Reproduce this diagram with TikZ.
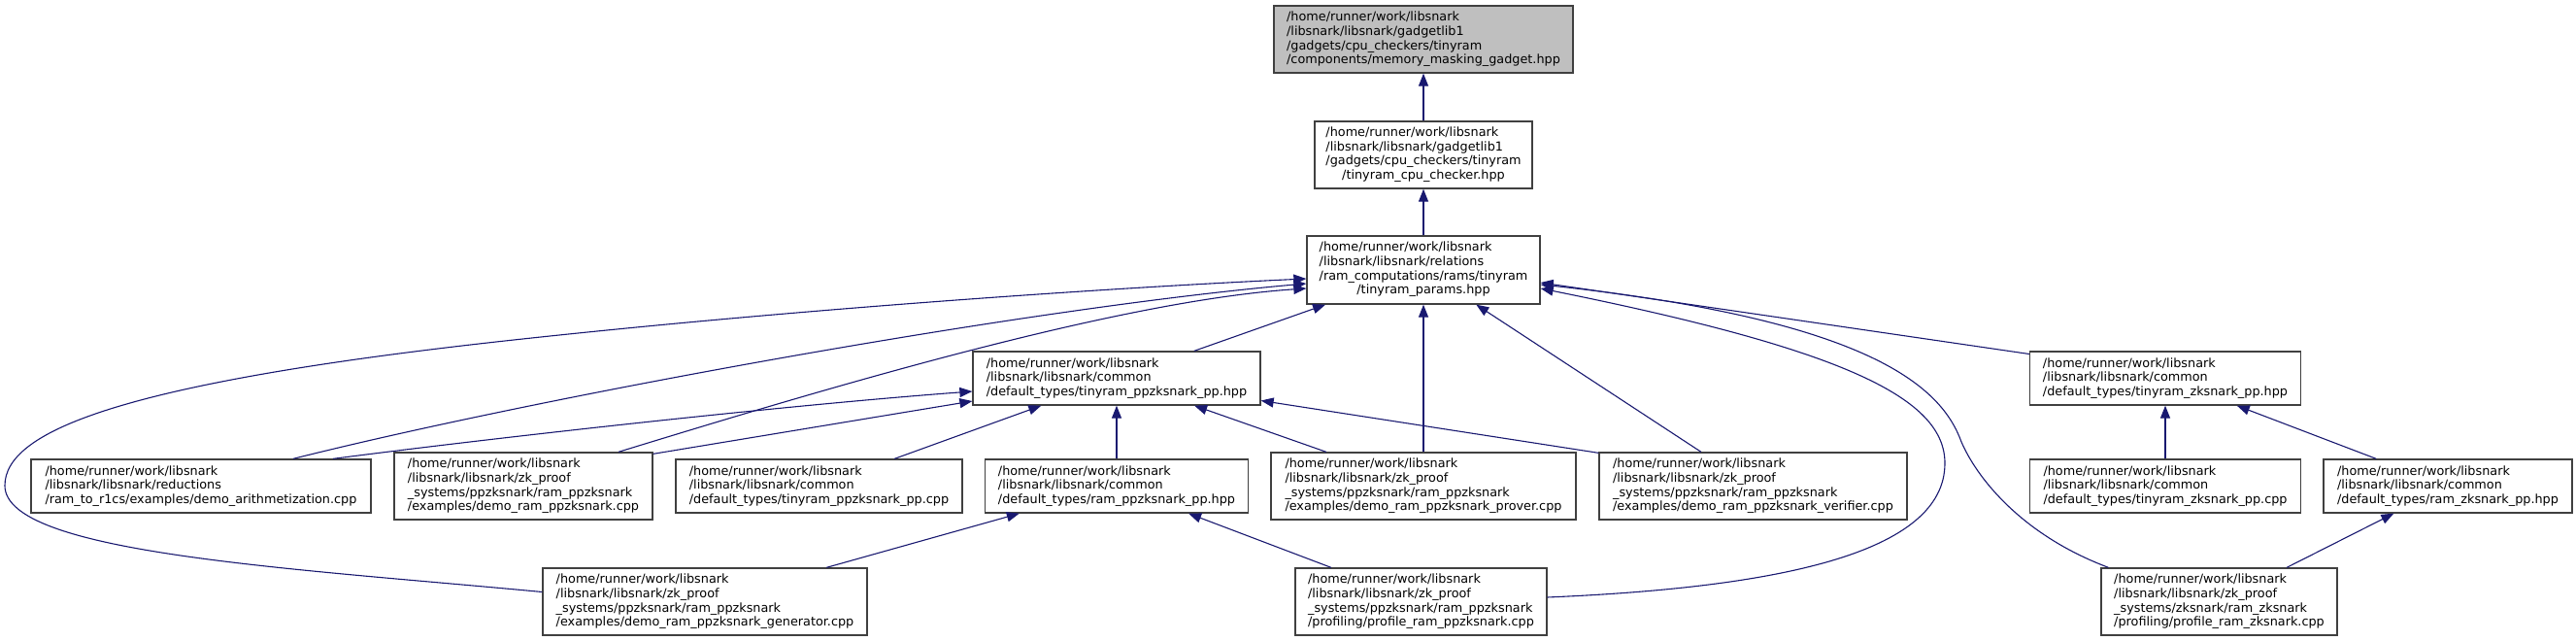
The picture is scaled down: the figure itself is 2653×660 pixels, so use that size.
\documentclass[tikz,border=0pt]{standalone}
\usepackage{fontspec}
\setmainfont{DejaVu Sans}
\usetikzlibrary{arrows.meta,calc}

\definecolor{edgeblue}{HTML}{191970}
\definecolor{boxline}{HTML}{404040}
\definecolor{rootfill}{HTML}{BFBFBF}

\begin{document}
\begin{tikzpicture}[
        x=1pt, y=-1pt,
        % file boxes
        file/.style={
            rectangle, draw=boxline, line width=1.3pt, fill=white,
            inner sep=0pt, align=left,
            font=\fontsize{12.8}{14.7}\selectfont
        },
        sz/.style 2 args={minimum width=#1pt, minimum height=#2pt},
        % include arrows
        inc/.style={-{Triangle[length=13pt,width=10pt]}, line width=1.1pt, draw=edgeblue}
    ]
        \useasboundingbox (0,0) rectangle (2653,660);

        % top chain
        \node[file, fill=rootfill, sz={308}{69}] (root) at (1466,40.5) {/home/runner/work/libsnark\\/libsnark/libsnark/gadgetlib1\\/gadgets/cpu\_checkers/tinyram\\/components/memory\_masking\_gadget.hpp};
        \node[file, sz={224}{69}] (cpu) at (1466,159.5) {\begin{tabular}{@{}l@{}}/home/runner/work/libsnark\\/libsnark/libsnark/gadgetlib1\\/gadgets/cpu\_checkers/tinyram\\\multicolumn{1}{@{}c@{}}{/tinyram\_cpu\_checker.hpp}\end{tabular}};
        \node[file, sz={240}{70}] (params) at (1466,278) {\begin{tabular}{@{}l@{}}/home/runner/work/libsnark\\/libsnark/libsnark/relations\\/ram\_computations/rams/tinyram\\\multicolumn{1}{@{}c@{}}{/tinyram\_params.hpp}\end{tabular}};

        % second row
        \node[file, sz={296}{55}] (tppp) at (1150,389.5) {/home/runner/work/libsnark\\/libsnark/libsnark/common\\/default\_types/tinyram\_ppzksnark\_pp.hpp};
        \node[file, sz={279}{55}] (tzpp) at (2230,389.5) {/home/runner/work/libsnark\\/libsnark/libsnark/common\\/default\_types/tinyram\_zksnark\_pp.hpp};

        % third row
        \node[file, sz={350}{55}] (arith) at (207,500.5) {/home/runner/work/libsnark\\/libsnark/libsnark/reductions\\/ram\_to\_r1cs/examples/demo\_arithmetization.cpp};
        \node[file, sz={266}{69}] (demo) at (539,500.5) {/home/runner/work/libsnark\\/libsnark/libsnark/zk\_proof\\\_systems/ppzksnark/ram\_ppzksnark\\/examples/demo\_ram\_ppzksnark.cpp};
        \node[file, sz={295}{55}] (tpcpp) at (843.5,500.5) {/home/runner/work/libsnark\\/libsnark/libsnark/common\\/default\_types/tinyram\_ppzksnark\_pp.cpp};
        \node[file, sz={271}{55}] (rppp) at (1150,500.5) {/home/runner/work/libsnark\\/libsnark/libsnark/common\\/default\_types/ram\_ppzksnark\_pp.hpp};
        \node[file, sz={314}{69}] (prover) at (1466,500.5) {/home/runner/work/libsnark\\/libsnark/libsnark/zk\_proof\\\_systems/ppzksnark/ram\_ppzksnark\\/examples/demo\_ram\_ppzksnark\_prover.cpp};
        \node[file, sz={317}{69}] (verifier) at (1805.5,500.5) {/home/runner/work/libsnark\\/libsnark/libsnark/zk\_proof\\\_systems/ppzksnark/ram\_ppzksnark\\/examples/demo\_ram\_ppzksnark\_verifier.cpp};
        \node[file, sz={279}{55}] (tzcpp) at (2230,500.5) {/home/runner/work/libsnark\\/libsnark/libsnark/common\\/default\_types/tinyram\_zksnark\_pp.cpp};
        \node[file, sz={256}{55}] (rzpp) at (2521,500.5) {/home/runner/work/libsnark\\/libsnark/libsnark/common\\/default\_types/ram\_zksnark\_pp.hpp};

        % bottom row
        \node[file, sz={334}{69}] (gen) at (726,619.5) {/home/runner/work/libsnark\\/libsnark/libsnark/zk\_proof\\\_systems/ppzksnark/ram\_ppzksnark\\/examples/demo\_ram\_ppzksnark\_generator.cpp};
        \node[file, sz={259}{69}] (profpp) at (1463.5,619.5) {/home/runner/work/libsnark\\/libsnark/libsnark/zk\_proof\\\_systems/ppzksnark/ram\_ppzksnark\\/profiling/profile\_ram\_ppzksnark.cpp};
        \node[file, sz={243}{69}] (profz) at (2285.5,619.5) {/home/runner/work/libsnark\\/libsnark/libsnark/zk\_proof\\\_systems/zksnark/ram\_zksnark\\/profiling/profile\_ram\_zksnark.cpp};

        % straight includes
        \draw[inc] (cpu) -- (root);
        \draw[inc] (params) -- (cpu);
        \draw[inc] (tppp) -- (params);
        \draw[inc] (prover) -- (params);
        \draw[inc] (verifier) -- (params);
        \draw[inc] ($(tzpp.west)+(0,-25)$) -- ($(params.east)+(0,13)$);
        \draw[inc] ($(demo.north east)+(0,2)$) -- ($(tppp.west)+(0,23.5)$);
        \draw[inc] (tpcpp) -- (tppp);
        \draw[inc] (rppp) -- (tppp);
        \draw[inc] (prover) -- (tppp);
        \draw[inc] ($(verifier.north west)+(0,1)$) -- ($(tppp.east)+(0,23)$);
        \draw[inc] (gen) -- (rppp);
        \draw[inc] (profpp) -- (rppp);
        \draw[inc] (tzcpp) -- (tzpp);
        \draw[inc] (rzpp) -- (tzpp);
        \draw[inc] (profz) -- (rzpp);

        % curved includes
        \draw[inc] ($(arith.north)+(95,0)$) .. controls (550,410) and (1050,318) .. ($(params.west)+(0,14)$);
        \draw[inc] ($(demo.north)+(98,0)$) .. controls (850,400) and (1150,310) .. ($(params.west)+(0,19)$);
        \draw[inc] ($(arith.north)+(136,0)$) .. controls (500,452) and (800,418) .. ($(tppp.west)+(0,13.5)$);
        \draw[inc] ($(gen.west)+(0,-10)$) .. controls (300,585) and (5,570) .. (5,500)
            .. controls (5,445) and (120,395) .. (520,351)
            .. controls (820,318) and (1150,296) .. ($(params.west)+(0,9)$);
        \draw[inc] ($(profpp.east)+(0,-4.5)$) .. controls (1830,605) and (2003,570) .. (2003,477)
            .. controls (2003,410) and (1900,360) .. ($(params.east)+(0,19)$);
        \draw[inc] ($(profz.north)+(-114,0)$) .. controls (2080,550) and (2035,490) .. (2020,455)
            .. controls (2000,400) and (1930,330) .. ($(params.east)+(0,15)$);

    \end{tikzpicture}
\end{document}
